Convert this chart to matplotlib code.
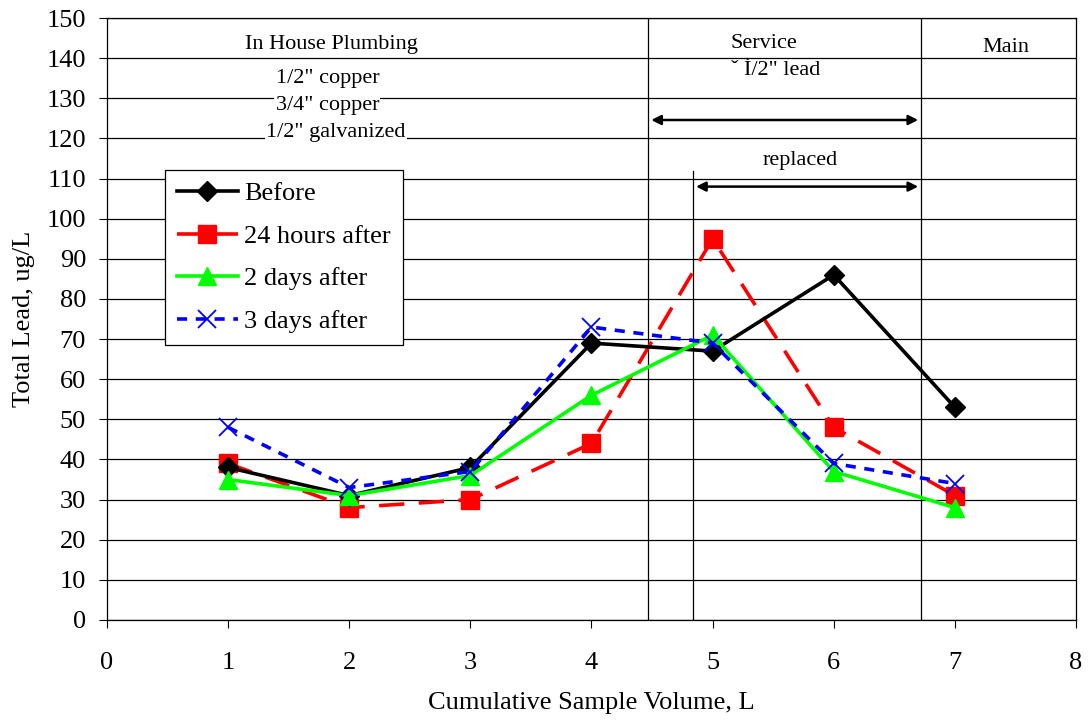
import matplotlib
matplotlib.use("Agg")
import matplotlib.pyplot as plt

plt.rcParams['font.family'] = ['Liberation Serif', 'DejaVu Serif']

# sample number (cumulative litres)
volume = [1, 2, 3, 4, 5, 6, 7]
before = [38, 31, 38, 69, 67, 86, 53]
after_24h = [39, 28, 30, 44, 95, 48, 31]
after_2d = [35, 31, 36, 56, 71, 37, 28]
after_3d = [48, 33, 37, 73, 69, 39, 34]

# boundaries between plumbing sections
service_start = 4.47
replaced_start = 4.84
main_start = 6.72

fig = plt.figure(figsize=(10.88, 7.23), dpi=100)
ax = fig.add_axes([0.0983, 0.1425, 0.8907, 0.8325])

ax.plot(volume, before, color='black', lw=2.6, marker='D', ms=10, label='Before', zorder=5)
ax.plot(volume, after_24h, color='red', lw=2.6, ls=(0, (7, 4)), marker='s', ms=13,
        label='24 hours after', zorder=4)
ax.plot(volume, after_2d, color='#00ff00', lw=2.6, marker='^', ms=13, label='2 days after', zorder=6)
ax.plot(volume, after_3d, color='blue', lw=2.6, ls=(0, (2.8, 2.4)), marker='x', ms=12.5, mew=1.3,
        label='3 days after', zorder=7)

ax.set_xlim(0, 8)
ax.set_ylim(0, 150)
ax.set_xticks(range(0, 9))
ax.set_yticks(range(0, 151, 10))
ax.yaxis.grid(True, color='black', lw=0.9)
ax.set_axisbelow(True)
ax.tick_params(labelsize=19, direction='out', length=6, color='black')
ax.tick_params(axis='x', pad=17)
ax.tick_params(axis='y', pad=9)
for s in ax.spines.values():
    s.set_color('black')
    s.set_linewidth(0.9)

ax.set_xlabel('Cumulative Sample Volume, L', fontsize=19, labelpad=13)
ax.set_ylabel('Total Lead, ug/L', fontsize=19, labelpad=8)

# section lines
ax.axvline(service_start, color='black', lw=0.9)
ax.axvline(main_start, color='black', lw=0.9)
ax.plot([replaced_start, replaced_start], [0, 112], color='black', lw=0.9)

ax.annotate('', xy=(service_start, 124.6), xytext=(main_start, 124.6),
            arrowprops=dict(arrowstyle='<|-|>', color='black', lw=1.8, mutation_scale=14))
ax.annotate('', xy=(replaced_start, 108), xytext=(main_start, 108),
            arrowprops=dict(arrowstyle='<|-|>', color='black', lw=1.8, mutation_scale=14))

box = dict(facecolor='white', edgecolor='none', pad=1)
ax.text(1.85, 143.5, 'In House Plumbing', ha='center', va='center', fontsize=16)
ax.text(1.82, 135, '1/2" copper', ha='center', va='center', fontsize=16, bbox=box)
ax.text(1.82, 128.2, '3/4" copper', ha='center', va='center', fontsize=16, bbox=box)
ax.text(1.89, 121.6, '1/2" galvanized', ha='center', va='center', fontsize=16, bbox=box)
ax.text(5.42, 143.7, 'Service', ha='center', va='center', fontsize=16)
ax.text(5.52, 137, 'ˇ İ/2" lead', ha='center', va='center', fontsize=16)
ax.text(7.42, 142.7, 'Main', ha='center', va='center', fontsize=16)
ax.text(5.72, 114.5, 'replaced', ha='center', va='center', fontsize=16)

leg = ax.legend(loc='upper left', bbox_to_anchor=(0.06, 0.7475), borderaxespad=0, fontsize=19,
                frameon=True, fancybox=False, edgecolor='black', framealpha=1, handlelength=2.3,
                handletextpad=0.25, labelspacing=0.72, borderpad=0.45)
leg.get_frame().set_linewidth(0.9)
leg.set_zorder(10)

fig.savefig('out.png', dpi=100)
